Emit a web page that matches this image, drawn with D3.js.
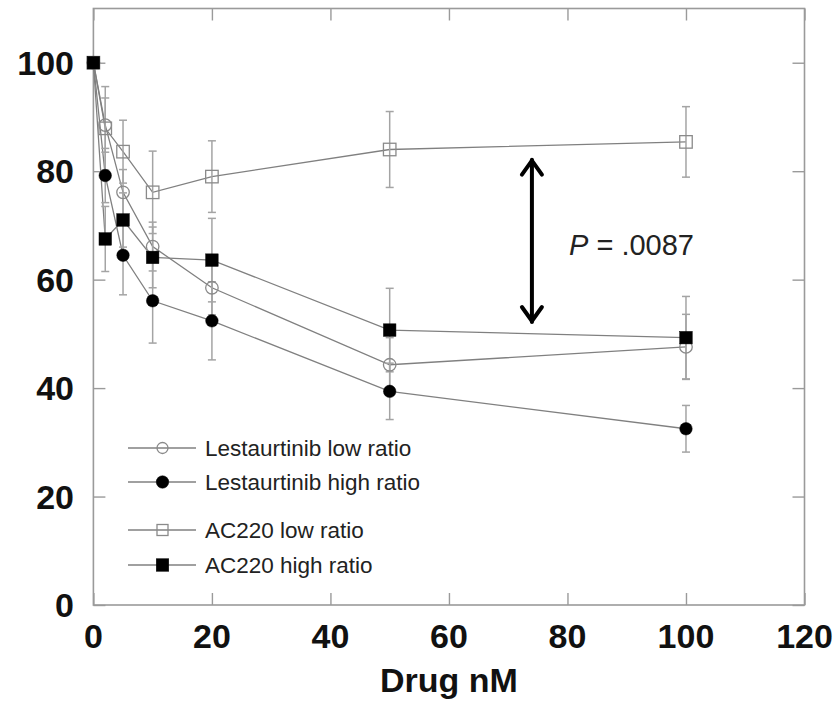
<!DOCTYPE html>
<html>
<head>
<meta charset="utf-8">
<script src="https://cdn.jsdelivr.net/npm/d3@7"></script>
<style>
  html, body { margin: 0; padding: 0; background: #fff; }
  svg { display: block; }
  text { font-family: "Liberation Sans", Arial, sans-serif; }
</style>
</head>
<body>
<svg id="chart" width="840" height="711"></svg>
<script>
// Drug concentrations (nM)
const doses = [0, 2, 5, 10, 20, 50, 100];

// Percent values per series, with SEM
const lestLow      = [100, 88.5, 76.1, 66.1, 58.5, 44.3, 47.6];
const lestLowErr   = [0, 5.0, 4.2, 4.5, 5.0, 5.0, 6.0];
const lestHigh     = [100, 79.2, 64.5, 56.1, 52.4, 39.4, 32.5];
const lestHighErr  = [0, 5.0, 7.3, 7.8, 7.2, 5.2, 4.3];
const acLow        = [100, 87.9, 83.6, 76.1, 79.0, 84.0, 85.4];
const acLowErr     = [0, 7.7, 5.8, 7.6, 6.6, 7.0, 6.5];
const acHigh       = [100, 67.5, 71.0, 64.1, 63.6, 50.7, 49.3];
const acHighErr    = [0, 6.0, 5.0, 5.6, 7.7, 7.7, 7.6];

const seriesNames  = ["Lestaurtinib low ratio", "Lestaurtinib high ratio", "AC220 low ratio", "AC220 high ratio"];
const xTicks = [0, 20, 40, 60, 80, 100, 120];
const yTicks = [0, 20, 40, 60, 80, 100];
const pLabel = ".0087";

// Comparison arrow between the AC220 groups
const arrowX = 74;
const arrowTop = 82.3;
const arrowBottom = 52.0;

const series = [
  { name: seriesNames[0], values: lestLow,  err: lestLowErr,  shape: "circle", filled: false },
  { name: seriesNames[1], values: lestHigh, err: lestHighErr, shape: "circle", filled: true },
  { name: seriesNames[2], values: acLow,    err: acLowErr,    shape: "square", filled: false },
  { name: seriesNames[3], values: acHigh,   err: acHighErr,   shape: "square", filled: true }
];

const svg = d3.select("#chart");
const plotLeft = 93.4, plotRight = 804.5, plotTop = 8.5, plotBottom = 605;

const x = d3.scaleLinear().domain([0, 120]).range([plotLeft, plotRight]);
const y = d3.scaleLinear().domain([0, 110]).range([plotBottom, plotTop]);

const frameColor = "#9a9a9a";
const lineColor = "#808080";
const errColor = "#a4a4a4";

// Frame with inward ticks on all four sides
svg.append("rect")
  .attr("x", plotLeft).attr("y", plotTop)
  .attr("width", plotRight - plotLeft).attr("height", plotBottom - plotTop)
  .attr("fill", "none").attr("stroke", frameColor).attr("stroke-width", 1.6);

const tickLen = 12;
const xAxisB = d3.axisBottom(x).tickValues(xTicks).tickSize(-tickLen).tickFormat("");
const xAxisT = d3.axisTop(x).tickValues(xTicks).tickSize(-tickLen).tickFormat("");
const yAxisL = d3.axisLeft(y).tickValues(yTicks).tickSize(-tickLen).tickFormat("");
const yAxisR = d3.axisRight(y).tickValues(yTicks).tickSize(-tickLen).tickFormat("");

function styleAxis(g) {
  g.select(".domain").remove();
  g.selectAll(".tick line").attr("stroke", frameColor).attr("stroke-width", 1.4);
}
svg.append("g").attr("transform", `translate(0,${plotBottom})`).call(xAxisB).call(styleAxis);
svg.append("g").attr("transform", `translate(0,${plotTop})`).call(xAxisT).call(styleAxis);
svg.append("g").attr("transform", `translate(${plotLeft},0)`).call(yAxisL).call(styleAxis);
svg.append("g").attr("transform", `translate(${plotRight},0)`).call(yAxisR).call(styleAxis);

// Tick labels
svg.append("g").selectAll("text").data(xTicks).join("text")
  .attr("x", d => x(d)).attr("y", 648)
  .attr("text-anchor", "middle")
  .attr("font-size", 34).attr("font-weight", "bold").attr("fill", "#111")
  .text(d => d);

svg.append("g").selectAll("text").data(yTicks).join("text")
  .attr("x", 74).attr("y", d => y(d))
  .attr("dy", "0.36em")
  .attr("text-anchor", "end")
  .attr("font-size", 34).attr("font-weight", "bold").attr("fill", "#111")
  .text(d => d);

// Axis title
svg.append("text")
  .attr("x", (plotLeft + plotRight) / 2).attr("y", 692)
  .attr("text-anchor", "middle")
  .attr("font-size", 34).attr("font-weight", "bold").attr("fill", "#111")
  .text("Drug nM");

// Connecting lines
const line = d3.line().x((d, i) => x(doses[i])).y(d => y(d));
const plot = svg.append("g");
series.forEach(s => {
  plot.append("path").attr("d", line(s.values))
    .attr("fill", "none").attr("stroke", lineColor).attr("stroke-width", 1.3);
});

// Error bars
const capW = 4;
series.forEach(s => {
  const g = plot.append("g").attr("stroke", errColor).attr("stroke-width", 1.5);
  s.values.forEach((v, i) => {
    const e = s.err[i];
    if (!e) return;
    const cx = x(doses[i]);
    g.append("line").attr("x1", cx).attr("x2", cx).attr("y1", y(v + e)).attr("y2", y(v - e));
    g.append("line").attr("x1", cx - capW).attr("x2", cx + capW).attr("y1", y(v + e)).attr("y2", y(v + e));
    g.append("line").attr("x1", cx - capW).attr("x2", cx + capW).attr("y1", y(v - e)).attr("y2", y(v - e));
  });
});

// Markers
function drawMarker(g, s, cx, cy, size) {
  const fill = s.filled ? "#000" : "none";
  const stroke = s.filled ? "#000" : "#8a8a8a";
  if (s.shape === "circle") {
    g.append("circle").attr("cx", cx).attr("cy", cy).attr("r", size / 2)
      .attr("fill", fill).attr("stroke", stroke).attr("stroke-width", s.filled ? 0.5 : 1.3);
  } else {
    g.append("rect").attr("x", cx - size / 2).attr("y", cy - size / 2)
      .attr("width", size).attr("height", size)
      .attr("fill", fill).attr("stroke", stroke).attr("stroke-width", s.filled ? 0.5 : 1.3);
  }
}
series.forEach(s => {
  const g = plot.append("g");
  s.values.forEach((v, i) => drawMarker(g, s, x(doses[i]), y(v), 12.5));
});

// Double-headed arrow
const ax = x(arrowX), ay1 = y(arrowTop), ay2 = y(arrowBottom);
const arrow = svg.append("g").attr("stroke", "#000").attr("stroke-width", 4)
  .attr("fill", "none").attr("stroke-linecap", "round").attr("stroke-linejoin", "round");
arrow.append("line").attr("x1", ax).attr("x2", ax).attr("y1", ay1 + 1).attr("y2", ay2 - 1);
arrow.append("path").attr("d", `M${ax - 10},${ay1 + 16} L${ax},${ay1 + 2} L${ax + 10},${ay1 + 16}`);
arrow.append("path").attr("d", `M${ax - 10},${ay2 - 16} L${ax},${ay2 - 2} L${ax + 10},${ay2 - 16}`);

// P-value annotation
const pText = svg.append("text")
  .attr("x", 569).attr("y", 255)
  .attr("font-size", 29).attr("fill", "#222");
pText.append("tspan").attr("font-style", "italic").text("P");
pText.append("tspan").text(" = " + pLabel);

// Legend
const legendRows = [448, 482, 530, 565];
const legend = svg.append("g");
series.forEach((s, i) => {
  const ly = legendRows[i];
  legend.append("line").attr("x1", 128).attr("x2", 196).attr("y1", ly).attr("y2", ly)
    .attr("stroke", lineColor).attr("stroke-width", 1.3);
  drawMarker(legend, s, 162.5, ly, s.filled ? 12.5 : 11);
  legend.append("text").attr("x", 205).attr("y", ly).attr("dy", "0.36em")
    .attr("font-size", 22.5).attr("fill", "#222")
    .text(s.name);
});
</script>
</body>
</html>
